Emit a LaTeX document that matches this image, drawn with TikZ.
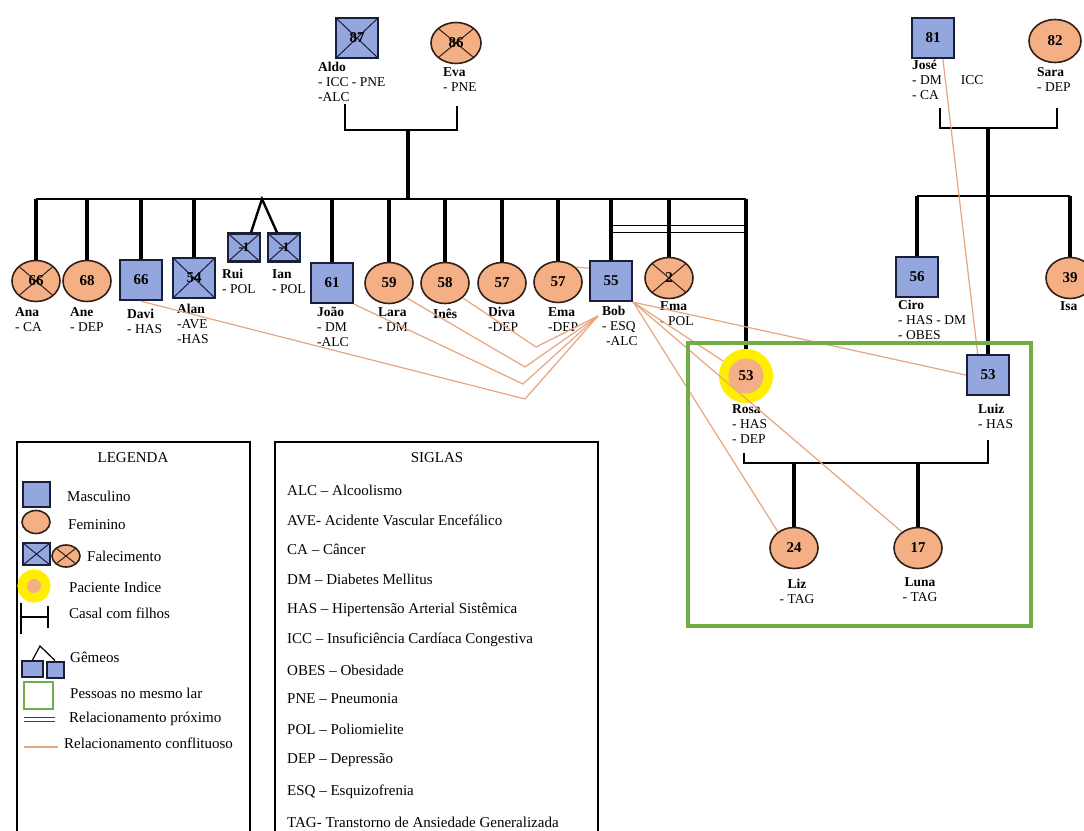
\documentclass[tikz,border=0pt]{standalone}
\usepackage{fontspec}
\setmainfont{Liberation Serif}
\usepackage{tikz}
\definecolor{male}{RGB}{147,167,222}
\definecolor{female}{RGB}{244,176,132}
\definecolor{maleline}{RGB}{25,30,58}
\definecolor{femline}{RGB}{50,32,22}
\definecolor{conflictline}{RGB}{230,166,126}
\definecolor{home}{RGB}{112,173,71}
\definecolor{indexyellow}{RGB}{255,238,0}
\usetikzlibrary{shapes.geometric,calc}
\newcommand*{\lblsize}{\fontsize{13.5}{15}\selectfont}
\newcommand*{\legsize}{\fontsize{15}{17}\selectfont}
\tikzset{%
  person/.style={inner sep=0, font=\fontsize{15}{15}\selectfont\bfseries},
  masc/.style={person, draw=maleline, line width=2.4, fill=male,
    minimum width=42, minimum height=40},% male
  fem/.style={person, ellipse, draw=femline, line width=1.6, fill=female,
    minimum width=48, minimum height=41},% female
  dead/.style={path picture={\draw[line width=1, #1]
    (path picture bounding box.north west) -- (path picture bounding box.south east)
    (path picture bounding box.north east) -- (path picture bounding box.south west);}},
  dead/.default=maleline,% deceased cross
  indexpat/.style={person, circle, fill=female, minimum size=35,
    preaction={draw=indexyellow, fill=indexyellow, line width=19}},% index patient
  lbl/.style={anchor=north west, inner sep=0, align=left, font=\lblsize},% name and conditions
  leg/.style={anchor=west, inner sep=0, font=\legsize},% legend text
  kin/.style={line width=3.2},
  couple/.style={line width=2.4},
  closeline/.style={double, double distance=5.5, line width=1.3},
  conflict/.style={draw=conflictline, line width=1.2},
  homebox/.style={draw=home, line width=3.5}
}

\begin{document}
\begin{tikzpicture}[x=1pt, y=-1pt]
\fill[white] (0,0) rectangle (1084,830);
\useasboundingbox (0,0) rectangle (1084,830);

\coordinate (sib) at (0,199);
\coordinate (sibr) at (0,196);
\coordinate (near) at (0,229);
\coordinate (aldo-c) at (345,104);
\coordinate (eva-c) at (457,106);
\coordinate (top-m) at (408,130);
\coordinate (jose-c) at (940,108);
\coordinate (sara-c) at (1057,108);
\coordinate (right-m) at (988,128);
\coordinate (rosa-c) at (744,453);
\coordinate (luiz-c) at (988,440);
\coordinate (home-m) at (850,463);
\coordinate (twin) at (262,199);

%%%% grandparents
\node[masc, dead] (aldo) at (357,38) {87};
\node[fem, dead=femline, minimum width=50] (eva) at (456,43) {86};
\node[masc] (jose) at (933,38) {81};
\node[fem, minimum width=52, minimum height=43] (sara) at (1055,41) {82};

%%%% children of Aldo and Eva
\node[fem, dead=femline] (ana) at (36,281) {66};
\node[fem] (ane) at (87,281) {68};
\node[masc] (davi) at (141,280) {66};
\node[masc, dead] (alan) at (194,278) {54};
\node[masc, dead, minimum width=32, minimum height=28, font=\fontsize{13}{13}\selectfont\bfseries] (rui) at (244,247.5) {-1};
\node[masc, dead, minimum width=32, minimum height=28, font=\fontsize{13}{13}\selectfont\bfseries] (ian) at (284,247.5) {-1};
\node[masc] (joao) at (332,283) {61};
\node[fem] (lara) at (389,283) {59};
\node[fem] (ines) at (445,283) {58};
\node[fem] (diva) at (502,283) {57};
\node[fem] (ema) at (558,282) {57};
\node[masc] (bob) at (611,281) {55};
\node[fem, dead=femline] (emab) at (669,278) {2};
\node[indexpat] (rosa) at (746,376) {53};

%%%% children of José and Sara
\node[masc] (ciro) at (917,277) {56};
\node[fem] (isa) at (1070,278) {39};
\node[masc] (luiz) at (988,375) {53};

%%%% Rosa and Luiz
\node[fem] (liz) at (794,548) {24};
\node[fem] (luna) at (918,548) {17};

%%%% names
\node[lbl] (aldo-t) at (318,62) {\textbf{Aldo}\\- ICC - PNE\\-ALC};
\node[lbl] (eva-t) at (443,67) {\textbf{Eva}\\- PNE};
\node[lbl] (jose-t) at (912,60) {\textbf{José}\\- DM\hspace{19pt}ICC\\- CA};
\node[lbl] (sara-t) at (1037,67) {\textbf{Sara}\\- DEP};
\node[lbl] (ana-t) at (15,307) {\textbf{Ana}\\- CA};
\node[lbl] (ane-t) at (70,307) {\textbf{Ane}\\- DEP};
\node[lbl] (davi-t) at (127,309) {\textbf{Davi}\\- HAS};
\node[lbl] (alan-t) at (177,304) {\textbf{Alan}\\-AVE\\-HAS};
\node[lbl] (rui-t) at (222,269) {\textbf{Rui}\\- POL};
\node[lbl] (ian-t) at (272,269) {\textbf{Ian}\\- POL};
\node[lbl] (joao-t) at (317,307) {\textbf{João}\\- DM\\-ALC};
\node[lbl] (lara-t) at (378,307) {\textbf{Lara}\\- DM};
\node[lbl] (ines-t) at (433,309) {\textbf{Inês}};
\node[lbl] (diva-t) at (488,307) {\textbf{Diva}\\-DEP};
\node[lbl] (ema-t) at (548,307) {\textbf{Ema}\\-DEP};
\node[lbl] (bob-t) at (602,306) {\textbf{Bob}\\- ESQ\\\hspace{4pt}-ALC};
\node[lbl] (emab-t) at (660,301) {\textbf{Ema}\\- POL};
\node[lbl] (ciro-t) at (898,300) {\textbf{Ciro}\\- HAS - DM\\- OBES};
\node[lbl] (isa-t) at (1060,301) {\textbf{Isa}};
\node[lbl] (rosa-t) at (732,404) {\textbf{Rosa}\\- HAS\\- DEP};
\node[lbl] (luiz-t) at (978,404) {\textbf{Luiz}\\- HAS};
\node[lbl, anchor=north, align=center] (liz-t) at (797,579) {\textbf{Liz}\\- TAG};
\node[lbl, anchor=north, align=center] (luna-t) at (920,577) {\textbf{Luna}\\- TAG};

%%%% family lines
\draw[closeline] (bob |- near) -- (rosa |- near);
\draw[couple] (aldo-c) |- (top-m) -| (eva-c);
\draw[kin] (top-m) -- (top-m |- sib);
\draw[couple] (ana |- sib) -- (rosa |- sib);
\draw[kin] (ana |- sib) -- (ana);
\draw[kin] (ane |- sib) -- (ane);
\draw[kin] (davi |- sib) -- (davi);
\draw[kin] (alan |- sib) -- (alan);
\draw[kin] (joao |- sib) -- (joao);
\draw[kin] (lara |- sib) -- (lara);
\draw[kin] (ines |- sib) -- (ines);
\draw[kin] (diva |- sib) -- (diva);
\draw[kin] (ema |- sib) -- (ema);
\draw[kin] (bob |- sib) -- (bob);
\draw[kin] (emab |- sib) -- (emab);
\draw[kin, shorten >=9] (rosa |- sib) -- (rosa);
\draw[couple] (rui.65) -- (twin) -- (ian.115);

\draw[couple] (jose-c) |- (right-m) -| (sara-c);
\draw[kin] (right-m) -- (luiz);
\draw[couple] (ciro |- sibr) -- (isa |- sibr);
\draw[kin] (ciro |- sibr) -- (ciro);
\draw[kin] (isa |- sibr) -- (isa);

\draw[couple] (rosa-c) |- (home-m) -| (luiz-c);
\draw[kin] (liz |- home-m) -- (liz);
\draw[kin] (luna |- home-m) -- (luna);

%%%% conflicts
\coordinate (bob-v) at (598,316);
\coordinate (v-ines) at (536,347);
\coordinate (v-lara) at (525,367);
\coordinate (v-joao) at (523,384);
\coordinate (v-davi) at (525,399);
\draw[conflict] (ines.-40) -- (v-ines) -- (bob-v);
\draw[conflict] (lara.-40) -- (v-lara) -- (bob-v);
\draw[conflict] (joao.south east) -- (v-joao) -- (bob-v);
\draw[conflict] (davi.south) -- (v-davi) -- (bob-v);
\draw[conflict] (ema.40) -- (bob.150);
\draw[conflict] (bob.south east) -- (luiz.west);
\draw[conflict, shorten >=9.5] (bob.south east) -- (rosa);
\draw[conflict] (bob.south east) -- (luna.135);
\draw[conflict] (bob.south east) -- (liz.135);
\draw[conflict] (jose.-65) -- (luiz.116);

\draw[homebox] (688,343) rectangle (1031,626);

%%%% legend
\draw[line width=2] (17,442) rectangle (250,840);
\node[leg, anchor=center] (legenda) at (133,458) {LEGENDA};
\node[masc, line width=2, minimum width=27, minimum height=25] (leg-m) at (36.5,494.5) {};
\node[fem, minimum width=28, minimum height=23] (leg-f) at (36,522) {};
\node[masc, dead, line width=2, minimum width=27, minimum height=22] (leg-dm) at (36.5,554) {};
\node[fem, dead=femline, minimum width=28, minimum height=22] (leg-df) at (66,556) {};
\node[indexpat, minimum size=14, preaction={draw=indexyellow, line width=12}] (leg-i) at (34,586) {};
\draw[line width=1.3] (21,603) -- (21,634) (21,617) -- (48,617) (48,606) -- (48,628);
\coordinate (leg-tw) at (40,646);
\node[masc, line width=2, minimum width=21, minimum height=16] (leg-t1) at (32.5,669) {};
\node[masc, line width=2, minimum width=17, minimum height=16] (leg-t2) at (55,669.5) {};
\draw[line width=1.2] (leg-t1.north) -- (leg-tw) -- (leg-t2.north);
\node[draw=home, line width=2, minimum width=29, minimum height=27] (leg-h) at (38.5,695.5) {};
\draw[closeline, line width=1, double distance=3, draw=black!75] (24,719) -- (55,719);
\draw[conflict] (24,747) -- (58,747);
\node[leg] (leg-mt) at (67,496) {Masculino};
\node[leg] (leg-ft) at (68,525) {Feminino};
\node[leg] (leg-dt) at (87,556) {Falecimento};
\node[leg] (leg-it) at (69,587) {Paciente Indice};
\node[leg] (leg-ct) at (69,613) {Casal com filhos};
\node[leg] (leg-tt) at (70,657) {Gêmeos};
\node[leg] (leg-ht) at (70,693) {Pessoas no mesmo lar};
\node[leg] (leg-pt) at (69,719) {Relacionamento próximo};
\node[leg] (leg-xt) at (64,743) {Relacionamento conflituoso};

%%%% siglas
\draw[line width=2] (275,442) rectangle (598,840);
\node[leg, anchor=center] (siglas) at (437,458) {SIGLAS};
\node[leg] (alc) at (287,490) {ALC -- Alcoolismo};
\node[leg] (ave) at (287,520) {AVE- Acidente Vascular Encefálico};
\node[leg] (ca) at (287,549) {CA -- Câncer};
\node[leg] (dm) at (287,579) {DM -- Diabetes Mellitus};
\node[leg] (has) at (287,610) {HAS -- Hipertensão Arterial Sistêmica};
\node[leg] (icc) at (287,640) {ICC -- Insuficiência Cardíaca Congestiva};
\node[leg] (obes) at (287,670) {OBES -- Obesidade};
\node[leg] (pne) at (287,699) {PNE -- Pneumonia};
\node[leg] (pol) at (287,729) {POL -- Poliomielite};
\node[leg] (dep) at (287,760) {DEP -- Depressão};
\node[leg] (esq) at (287,792) {ESQ -- Esquizofrenia};
\node[leg] (tag) at (287,822) {TAG- Transtorno de Ansiedade Generalizada};
\end{tikzpicture}
\end{document}
